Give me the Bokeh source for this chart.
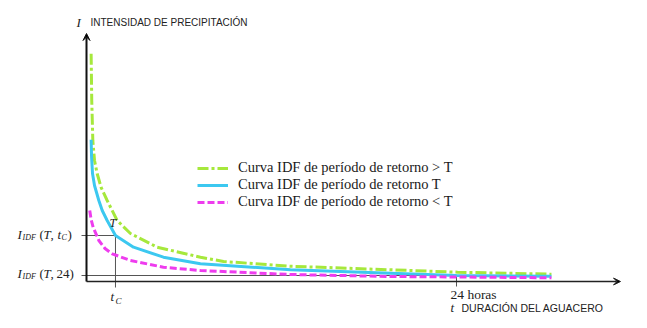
from bokeh.plotting import figure
from bokeh.models import Label, Arrow, VeeHead, ColumnDataSource, Legend, LegendItem
from bokeh.embed import file_html
from bokeh.resources import INLINE

# ---- data (duration t in hours, intensity in arbitrary units) ----
t_high = [0.30, 0.34, 0.41, 0.52, 0.69, 0.95, 1.34, 1.99, 2.85, 4.59, 7.39, 8.89, 13.23, 19.72, 24.07, 30.16]
i_high = [227.7, 181.0, 141.0, 121.0, 108.0, 94.0, 81.0, 61.0, 48.0, 34.3, 24.3, 20.0, 15.3, 11.7, 9.3, 7.3]

t_mid = [0.30, 0.33, 0.39, 0.52, 0.80, 1.02, 1.34, 1.88, 3.05, 4.99, 7.39, 13.23, 19.72, 24.0, 30.16]
i_mid = [141.7, 124.0, 108.0, 96.0, 81.0, 71.0, 61.0, 46.0, 34.3, 24.3, 17.7, 11.7, 8.3, 6.0, 5.3]

t_low = [0.21, 0.30, 0.43, 0.80, 1.20, 1.67, 2.85, 4.99, 7.39, 13.23, 19.72, 24.0, 30.16]
i_low = [71.0, 62.0, 54.3, 41.0, 33.0, 27.7, 21.0, 14.3, 11.0, 7.0, 5.0, 4.5, 3.7]

t_c = 1.88
i_tc = 46.0
t_24 = 24.0
i_24 = 6.0

labels = ["Curva IDF de período de retorno > T",
          "Curva IDF de período de retorno T",
          "Curva IDF de período de retorno < T"]

# ---- pixel helpers for annotation placement ----
PX_PER_H = 370 / 24.0
def X(px):
    return (px - 86) / PX_PER_H
def Y(py):
    return 281 - py

W, H = 647, 328
p = figure(width=W, height=H, output_backend="svg", toolbar_location=None,
           x_range=(X(0), X(W)), y_range=(Y(H), Y(0)), min_border=0)
p.axis.visible = False
p.grid.visible = False
p.outline_line_color = None
p.background_fill_color = "white"
p.border_fill_color = "white"

GREEN = "#a6e83c"
BLUE = "#3cc8f0"
MAGENTA = "#ee3cee"
GUIDE = "#555555"

# guide lines
guide = ColumnDataSource(dict(
    x0=[X(81), t_c, X(81), t_24],
    y0=[i_tc, i_tc, i_24, i_24],
    x1=[t_c, t_c, t_24, t_24],
    y1=[i_tc, Y(287), i_24, Y(286)],
))
p.segment("x0", "y0", "x1", "y1", source=guide, line_color=GUIDE, line_width=1)

# axes with arrows
p.add_layout(Arrow(x_start=0, y_start=0, x_end=X(620), y_end=0, line_color="#222222",
                   line_width=1.3, end=VeeHead(size=7, line_color="#222222", line_width=1)))
p.add_layout(Arrow(x_start=0, y_start=0, x_end=0, y_end=Y(33), line_color="#111111",
                   line_width=2, end=VeeHead(size=7, line_color="#111111", line_width=1)))

r1 = p.line(t_high, i_high, line_color=GREEN, line_width=3, line_dash="11 3 3 3")
r2 = p.line(t_mid, i_mid, line_color=BLUE, line_width=3)
r3 = p.line(t_low, i_low, line_color=MAGENTA, line_width=3, line_dash="7 3")

legend = Legend(items=[LegendItem(label=labels[0], renderers=[r1]),
                       LegendItem(label=labels[1], renderers=[r2]),
                       LegendItem(label=labels[2], renderers=[r3])],
                location=(197, H - 210), orientation="vertical",
                background_fill_alpha=0, border_line_color=None,
                label_text_font="Liberation Serif", label_text_font_size="14.5px",
                label_text_color="#1a1a1a",
                glyph_width=31, glyph_height=14, label_height=14, spacing=0,
                padding=0, margin=0, label_standoff=10)
p.add_layout(legend)

def lab(px, py, text, size="13px", font="Liberation Serif", style="normal", align="left", color="#222222"):
    p.add_layout(Label(x=X(px), y=Y(py), text=text, text_font=font, text_font_size=size,
                       text_font_style=style, text_align=align, text_baseline="middle",
                       text_color=color))

# top label
lab(76, 22, "I", size="13px", style="italic")
lab(90, 22, "INTENSIDAD DE PRECIPITACIÓN", size="10px", font="Liberation Sans")
# bottom label
lab(450, 307, "t", size="13px", style="italic")
lab(461, 307, "DURACIÓN DEL AGUACERO", size="10.5px", font="Liberation Sans")
lab(450, 294, "24 horas", size="13.5px")
# t_C
lab(110, 296, "t", size="13px", style="italic")
lab(115, 300, "C", size="9px", style="italic")
# T at point
lab(109, 222, "T", size="12px", style="italic")
# y labels
for py, tail in [(234, None), (273, "24)")]:
    lab(17, py, "I", size="13px", style="italic")
    lab(22, py + 3, "IDF", size="8px", style="italic")
    lab(39, py, "(", size="13px")
    lab(43, py, "T", size="13px", style="italic")
    lab(50, py, ",", size="13px")
    if tail is None:
        lab(57, py, "t", size="13px", style="italic")
        lab(61, py + 3, "C", size="8px", style="italic")
        lab(67, py, ")", size="13px")
    else:
        lab(56, py, tail, size="13px")

open("out.html", "w").write(file_html(p, INLINE))
